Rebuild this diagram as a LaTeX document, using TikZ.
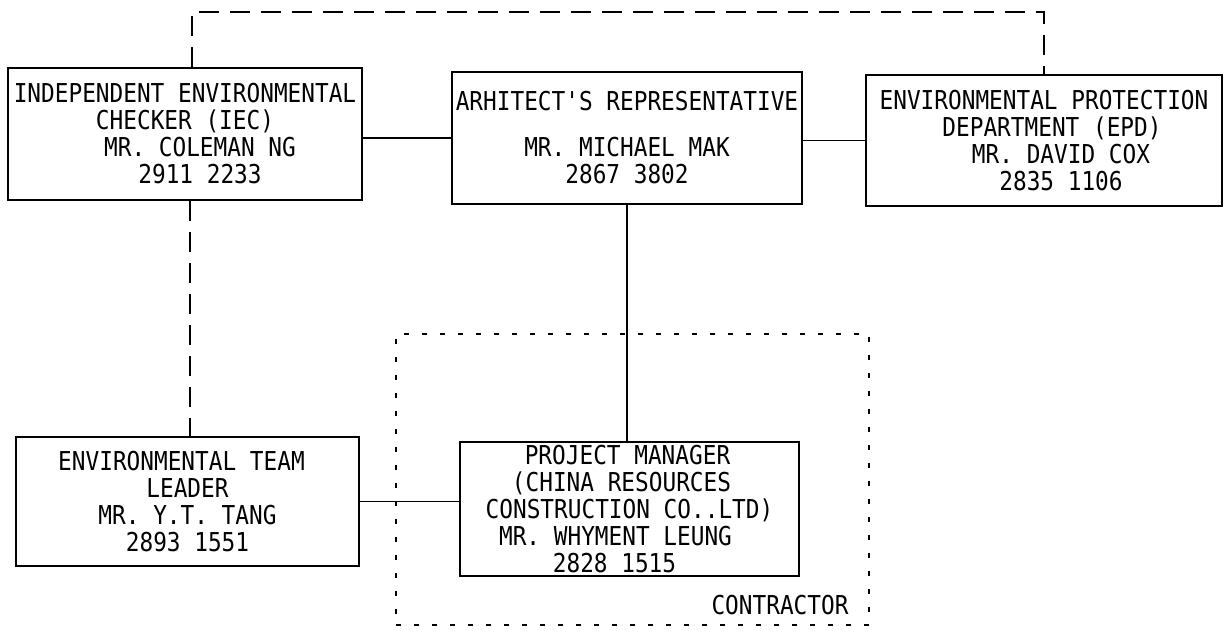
\documentclass[tikz,border=0pt]{standalone}
\usepackage{fontspec}
\newfontfamily\cadfont[FakeStretch=0.875]{DejaVu Sans Mono}
\begin{document}
\begin{tikzpicture}[x=1pt,y=-1pt,line width=1.7pt,
  txt/.style={font=\cadfont\fontsize{26pt}{27pt}\selectfont, align=center, inner sep=0pt},
  box/.style={txt, draw},
  dashline/.style={dash pattern=on 20pt off 11pt},
  dotline/.style={dash pattern=on 5pt off 13pt}]
\useasboundingbox (0,0) rectangle (1226,630);

% contractor frame
\node[draw, dotline, inner sep=0pt, minimum width=473pt, minimum height=291pt] (ctr) at (632.5,479.5) {};
\node[txt] (ctrlabel) at (780,605) {CONTRACTOR};

% boxes
\node[box, minimum width=354pt, minimum height=132pt] (iec) at (185,134)
  {INDEPENDENT ENVIRONMENTAL\\CHECKER (IEC)\\\hspace*{30pt}MR. COLEMAN NG\\\hspace*{30pt}2911 2233};
\node[box, minimum width=350pt, minimum height=132pt] (arch) at (627,138)
  {ARHITECT'S REPRESENTATIVE\\[19pt]MR. MICHAEL MAK\\2867 3802};
\node[box, minimum width=356pt, minimum height=131pt] (epd) at (1044,140.5)
  {ENVIRONMENTAL PROTECTION\\\hspace*{16pt}DEPARTMENT (EPD)\\\hspace*{34pt}MR. DAVID COX\\\hspace*{34pt}2835 1106};
\node[box, minimum width=343pt, minimum height=129pt] (etl) at (187.5,501.5)
  {ENVIRONMENTAL TEAM\hspace*{12pt}\\LEADER\\MR. Y.T. TANG\\2893 1551};
\node[box, minimum width=339pt, minimum height=134pt] (pm) at (629.5,509)
  {\hspace*{-4pt}PROJECT MANAGER\\\hspace*{-16pt}(CHINA RESOURCES\\CONSTRUCTION CO..LTD)\\\hspace*{-28pt}MR. WHYMENT LEUNG\\\hspace*{-30pt}2828 1515};

% connectors
\draw (iec.east |- arch.west) -- (arch.west);
\draw (arch.east |- epd.west) -- (epd.west);
\draw (arch.south) -- (arch.south |- pm.north);
\draw (etl.east) -- (etl.east -| pm.west);
\draw[dashline] ([xshift=5pt]iec.south) -- ([xshift=5pt]iec.south |- etl.north);
\draw[dashline] ([xshift=7pt]iec.north) -- ++(0,-55) -| (epd.north);
\end{tikzpicture}
\end{document}
